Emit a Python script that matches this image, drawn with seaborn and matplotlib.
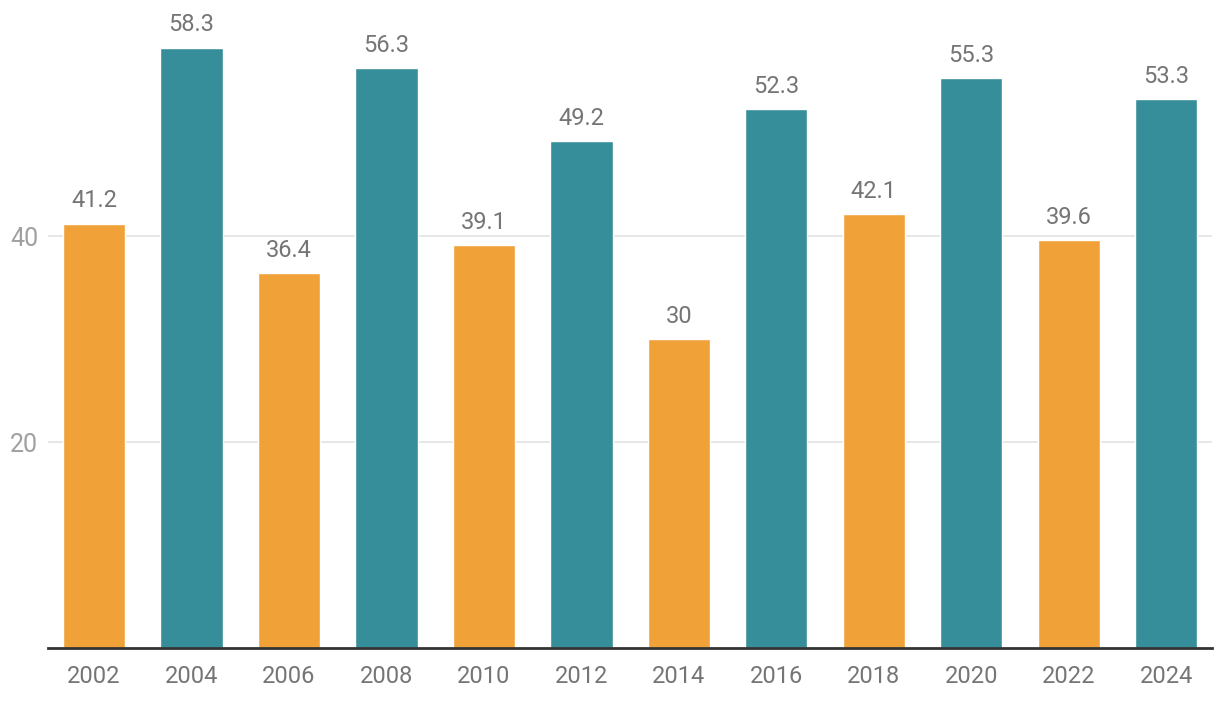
import pandas as pd
import matplotlib.pyplot as plt
import seaborn as sns

# --- datos ---
anios = ["2002", "2004", "2006", "2008", "2010", "2012",
         "2014", "2016", "2018", "2020", "2022", "2024"]
valores = [41.2, 58.3, 36.4, 56.3, 39.1, 49.2, 30, 52.3, 42.1, 55.3, 39.6, 53.3]
grupo = ["a", "b"] * 6
colores = {"a": "#F0A238", "b": "#368E9A"}

df = pd.DataFrame({"anio": anios, "valor": valores, "grupo": grupo})

sns.set_style("white")
plt.rcParams['font.family'] = ['Roboto', 'DejaVu Sans']

fig = plt.figure(figsize=(12.2, 7.04), dpi=100)
ax = fig.add_axes([48 / 1220, 56 / 704, (1212 - 48) / 1220, (648 - 8) / 704])

sns.barplot(data=df, x="anio", y="valor", hue="grupo", palette=colores,
            width=0.64, dodge=False, legend=False, saturation=1,
            ax=ax, zorder=2)

ax.set_ylim(0, 640 / 10.3)
ax.set_xlim(-0.472, 11.47)
ax.set_yticks([20, 40])
ax.grid(axis='y', color='#e3e3e3', linewidth=1.2, zorder=0)
ax.set_axisbelow(True)

for i, v in enumerate(valores):
    ax.text(i, v + 1.1, f"{v:g}", ha='center', va='bottom',
            fontsize=17, color='#757575')

for s in ["top", "right", "left"]:
    ax.spines[s].set_visible(False)
ax.spines["bottom"].set_color("#333333")
ax.spines["bottom"].set_linewidth(2)

ax.tick_params(axis='x', length=0, labelsize=17, labelcolor='#757575', pad=12)
ax.tick_params(axis='y', length=0, labelsize=18, labelcolor='#a0a0a0', pad=7)
ax.set_xlabel("")
ax.set_ylabel("")

fig.savefig("out.png", dpi=100)
